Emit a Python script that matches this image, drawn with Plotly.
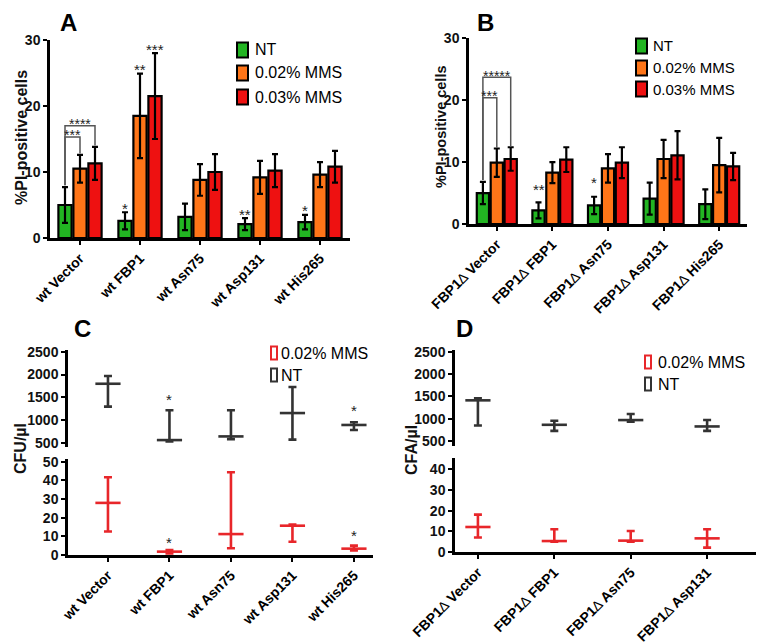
import plotly.graph_objects as go

W, H = 768, 644
FONT = "Liberation Sans, Arial, sans-serif"

# ---------------- data ----------------
cat_a = ["wt Vector", "wt FBP1", "wt Asn75", "wt Asp131", "wt His265"]
a_nt = [5.0, 2.6, 3.2, 2.1, 2.4]
a_nt_err = [2.7, 1.3, 2.0, 0.9, 1.1]
a_m02 = [10.5, 18.5, 8.8, 9.2, 9.6]
a_m02_err = [2.1, 6.4, 2.4, 2.5, 1.9]
a_m03 = [11.3, 21.5, 10.0, 10.2, 10.8]
a_m03_err = [2.5, 6.5, 2.7, 2.5, 2.4]

cat_b = ["FBP1∆ Vector", "FBP1∆ FBP1", "FBP1∆ Asn75", "FBP1∆ Asp131", "FBP1∆ His265"]
b_nt = [5.0, 2.2, 3.0, 4.1, 3.2]
b_nt_err = [1.8, 1.3, 1.4, 2.6, 2.4]
b_m02 = [9.9, 8.3, 9.0, 10.5, 9.5]
b_m02_err = [2.3, 1.7, 2.3, 3.1, 4.4]
b_m03 = [10.5, 10.4, 9.9, 11.1, 9.3]
b_m03_err = [1.9, 2.0, 2.5, 3.9, 2.2]

cat_c = ["wt Vector", "wt FBP1", "wt Asn75", "wt Asp131", "wt His265"]
c_nt_mean = [1800, 570, 650, 1160, 900]
c_nt_hi = [1970, 1220, 1220, 1730, 960]
c_nt_lo = [1300, 540, 590, 580, 790]
c_mms_mean = [27.9, 1.8, 11.2, 15.7, 3.4]
c_mms_hi = [41.6, 2.6, 44.3, 16.3, 5.0]
c_mms_lo = [12.6, 0.8, 3.6, 7.1, 2.5]

cat_d = ["FBP1∆ Vector", "FBP1∆ FBP1", "FBP1∆ Asn75", "FBP1∆ Asp131"]
d_nt_mean = [1410, 862, 968, 825]
d_nt_hi = [1458, 953, 1104, 968]
d_nt_lo = [847, 726, 930, 726]
d_mms_mean = [12.1, 5.3, 5.5, 6.6]
d_mms_hi = [18.1, 11.0, 10.2, 11.0]
d_mms_lo = [7.0, 5.0, 5.0, 2.1]

series_names = ["NT", "0.02% MMS", "0.03% MMS"]
GREEN, ORANGE, RED, DARK = "#22b522", "#ff7518", "#ee1111", "#333333"
C_RED = "#e8262a"


def px(x):
    return x / W


def py(y):
    return 1 - y / H


def label(s):
    return "<b>" + s.replace("∆", "</b>∆<b>") + "</b>"


fig = go.Figure()

# ---------------- bars A & B ----------------
for (cats, vals_list, ax) in [
    (cat_a, [(a_nt, a_nt_err), (a_m02, a_m02_err), (a_m03, a_m03_err)], ("x", "y")),
    (cat_b, [(b_nt, b_nt_err), (b_m02, b_m02_err), (b_m03, b_m03_err)], ("x2", "y2")),
]:
    for (v, e), col, nm in zip(vals_list, [GREEN, ORANGE, RED], series_names):
        fig.add_trace(go.Bar(
            x=cats, y=v, name=nm, xaxis=ax[0], yaxis=ax[1],
            marker=dict(color=col, line=dict(color="black", width=2.2)),
            error_y=dict(type="data", array=e, visible=True, color="black",
                         thickness=2.2, width=3),
            showlegend=False,
        ))


# ---------------- C & D ranges ----------------
def range_trace(cats, mean, hi, lo, col, xa, ya):
    xs = list(range(len(cats)))
    fig.add_trace(go.Scatter(
        x=xs, y=mean, mode="markers", xaxis=xa, yaxis=ya, showlegend=False,
        marker=dict(symbol="line-ew", size=18, line=dict(color=col, width=2.6)),
        error_y=dict(type="data", symmetric=False,
                     array=[h - m for h, m in zip(hi, mean)],
                     arrayminus=[m - l for m, l in zip(mean, lo)],
                     color=col, thickness=2.6, width=4),
    ))


range_trace(cat_c, c_nt_mean, c_nt_hi, c_nt_lo, DARK, "x3", "y4")
range_trace(cat_c, c_mms_mean, c_mms_hi, c_mms_lo, C_RED, "x3", "y3")
range_trace(cat_d, d_nt_mean, d_nt_hi, d_nt_lo, DARK, "x4", "y6")
range_trace(cat_d, d_mms_mean, d_mms_hi, d_mms_lo, C_RED, "x4", "y5")

# ---------------- axes ----------------
ax_common = dict(showline=True, linecolor="black", linewidth=2.5, ticks="outside",
                 ticklen=4, tickwidth=2, tickcolor="black", showgrid=False,
                 zeroline=False, automargin=False,
                 tickfont=dict(family=FONT, size=14, color="black"))
yt = dict(ax_common)
yt["tickfont"] = dict(family=FONT, size=14, color="#111111", weight="bold")


def bt(vals):
    return ["<b>%d</b>" % v for v in vals]


fig.update_layout(
    template="none",
    width=W, height=H, margin=dict(l=0, r=0, t=0, b=0, pad=0, autoexpand=False),
    paper_bgcolor="white", plot_bgcolor="white",
    barmode="group", bargap=0.25, bargroupgap=0.12,
    font=dict(family=FONT, color="black"),
    xaxis=dict(ax_common, domain=[px(50), px(350)], anchor="y", type="category",
               tickangle=-45, tickvals=cat_a, ticktext=[label(c) for c in cat_a],
               range=[-0.5, 4.5]),
    yaxis=dict(yt, domain=[py(238), py(40)], anchor="x", range=[0, 30],
               tickvals=[0, 10, 20, 30], ticktext=bt([0, 10, 20, 30])),
    xaxis2=dict(ax_common, domain=[px(469), px(747)], anchor="y2", type="category",
                tickangle=-45, tickvals=cat_b, ticktext=[label(c) for c in cat_b],
                range=[-0.5, 4.5]),
    yaxis2=dict(yt, domain=[py(224), py(38.3)], anchor="x2", range=[0, 30],
                tickvals=[0, 10, 20, 30], ticktext=bt([0, 10, 20, 30])),
    xaxis3=dict(ax_common, domain=[px(68), px(373)], anchor="y3", range=[-0.65, 4.31],
                tickangle=-45, tickvals=list(range(len(cat_c))),
                ticktext=[label(c) for c in cat_c]),
    yaxis3=dict(yt, domain=[py(555), py(459)], anchor="x3", range=[0, 51.4],
                tickvals=[0, 10, 20, 30, 40, 50], ticktext=bt([0, 10, 20, 30, 40, 50])),
    yaxis4=dict(yt, domain=[py(447), py(350)], anchor="x3", range=[419, 2537],
                tickvals=[500, 1000, 1500, 2000, 2500],
                ticktext=bt([500, 1000, 1500, 2000, 2500])),
    xaxis4=dict(ax_common, domain=[px(455), px(756)], anchor="y5", range=[-0.30, 3.64],
                tickangle=-45, tickvals=list(range(len(cat_d))),
                ticktext=[label(c) for c in cat_d]),
    yaxis5=dict(yt, domain=[py(552), py(458)], anchor="x4", range=[0, 45.5],
                tickvals=[0, 10, 20, 30, 40], ticktext=bt([0, 10, 20, 30, 40])),
    yaxis6=dict(yt, domain=[py(446), py(350)], anchor="x4", range=[387, 2538],
                tickvals=[500, 1000, 1500, 2000, 2500],
                ticktext=bt([500, 1000, 1500, 2000, 2500])),
)

ann = []
shapes = []

# panel letters
for t, x, y in [("A", 68, 23), ("B", 485, 22), ("C", 82, 328), ("D", 464, 328)]:
    ann.append(dict(text="<b>%s</b>" % t, x=px(x), y=py(y), xref="paper", yref="paper",
                    showarrow=False, font=dict(size=24, family=FONT, color="black"),
                    xanchor="center", yanchor="middle"))

# y-axis titles
for t, x, y, s in [("%PI-positive cells", 21, 138, 16), ("%PI-positive cells", 441, 127, 14.5),
                   ("CFU/µl", 20, 449, 16), ("CFA/µl", 411, 450, 16)]:
    ann.append(dict(text="<b>%s</b>" % t, x=px(x), y=py(y), xref="paper", yref="paper",
                    showarrow=False, textangle=-90, font=dict(size=s, family=FONT, color="#111111"),
                    xanchor="center", yanchor="middle"))

# legends for A and B
for (mx, tx, rows, fs) in [(237, 253, [50, 73, 97], 16), (636, 651, [46, 68, 89], 15)]:
    for r, col, nm in zip(rows, [GREEN, ORANGE, RED], series_names):
        shapes.append(dict(type="rect", xref="paper", yref="paper",
                           x0=px(mx), x1=px(mx + 11), y0=py(r + 7.5), y1=py(r - 7.5),
                           fillcolor=col, line=dict(color="black", width=2)))
        ann.append(dict(text=nm, x=px(tx), y=py(r), xref="paper", yref="paper",
                        showarrow=False, xanchor="left", yanchor="middle",
                        font=dict(size=fs, family=FONT, color="black")))

# legends for C and D
for (mx, tx, rows) in [(271, 279, [353, 375]), (645, 656, [362, 384])]:
    for r, col, nm in zip(rows, [C_RED, DARK], ["0.02% MMS", "NT"]):
        shapes.append(dict(type="rect", xref="paper", yref="paper",
                           x0=px(mx), x1=px(mx + 6), y0=py(r + 6.5), y1=py(r - 6.5),
                           fillcolor="white", line=dict(color=col, width=2)))
        ann.append(dict(text=nm, x=px(tx), y=py(r), xref="paper", yref="paper",
                        showarrow=False, xanchor="left", yanchor="middle",
                        font=dict(size=16, family=FONT, color="black")))


# significance stars
def star(text, x, y, xr, yr, size=15):
    ann.append(dict(text=text, x=x, y=y, xref=xr, yref=yr, showarrow=False,
                    xanchor="center", yanchor="middle", yshift=-2,
                    font=dict(size=size, family=FONT, color="#222222")))


for t, x, y in [("*", 0.75, 4.8), ("**", 1.0, 25.8), ("***", 1.25, 28.8),
                ("**", 2.75, 3.8), ("*", 3.75, 4.4)]:
    star(t, x, y, "x", "y")
star("****", 0.0, 17.55, "x", "y", 14)
star("***", -0.125, 15.85, "x", "y", 14)
for t, x, y in [("**", 0.75, 5.9), ("*", 1.75, 7.0)]:
    star(t, x, y, "x2", "y2")
star("*****", 0.0, 24.3, "x2", "y2", 14)
star("***", -0.125, 21.0, "x2", "y2", 14)
for t, x, y in [("*", 1, 1500), ("*", 4, 1250)]:
    star(t, x, y, "x3", "y4")
for t, x, y in [("*", 1, 8.0), ("*", 4, 11.5)]:
    star(t, x, y, "x3", "y3")


# brackets
def bracket(xl, xr, ytop, yl, yrr, xa, ya):
    shapes.append(dict(type="path", xref=xa, yref=ya,
                       path="M %f,%f L %f,%f L %f,%f L %f,%f" % (xl, yl, xl, ytop, xr, ytop, xr, yrr),
                       line=dict(color="#555555", width=1.5)))


bracket(-0.25, 0.25, 17.0, 8.0, 14.0, "x", "y")
bracket(-0.25, 0.0, 15.3, 8.0, 12.8, "x", "y")
bracket(-0.25, 0.25, 23.7, 7.1, 12.5, "x2", "y2")
bracket(-0.25, 0.0, 20.4, 7.1, 12.3, "x2", "y2")

fig.update_layout(annotations=ann, shapes=shapes)
fig.write_html("out.html")
